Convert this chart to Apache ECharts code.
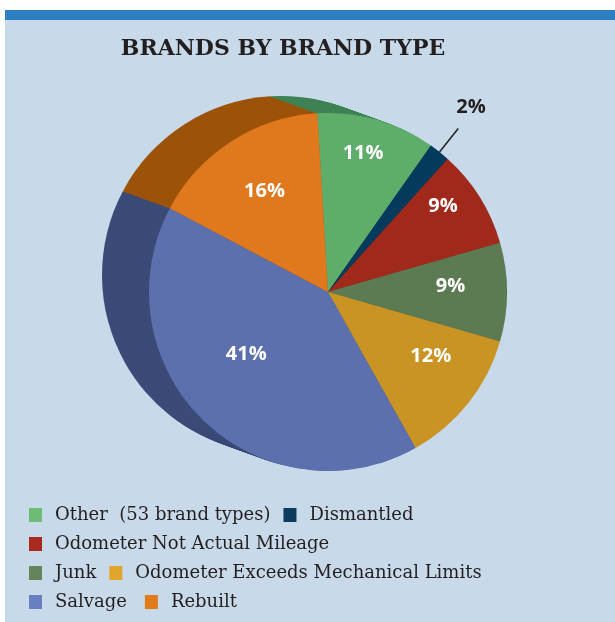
<!DOCTYPE html>
<html><head><meta charset="utf-8">
<script src="https://cdn.jsdelivr.net/npm/echarts@6/dist/echarts.min.js"></script>
<style>html,body{margin:0;padding:0;background:#fff;}#c{width:615px;height:622px;}</style>
</head><body><div id="c"></div>
<script>
// ---- data ----
const categories = ['Other  (53 brand types)', 'Dismantled', 'Odometer Not Actual Mileage', 'Junk', 'Odometer Exceeds Mechanical Limits', 'Salvage', 'Rebuilt'];
const shares = [10.7, 1.9, 8.9, 8.9, 12.4, 40.9, 16.3];
const legendRows = [
  ['Other  (53 brand types)', 'Dismantled'],
  ['Odometer Not Actual Mileage'],
  ['Junk', 'Odometer Exceeds Mechanical Limits'],
  ['Salvage', 'Rebuilt']
];
const titleText = 'BRANDS BY BRAND TYPE';

// ---- styles ----
const faceColors = ['#5fad6b', '#043a5b', '#a0291c', '#5c7b52', '#c99424', '#5c70ae', '#e0781d'];
const sideColors = ['#3f8355', '#022a44', '#7a1d14', '#45603d', '#9a7420', '#3b4a77', '#9c5308'];
const legendColors = ['#6abd73', '#0a3c5e', '#a82a1e', '#65845a', '#e0a52a', '#6a7fc2', '#e07a1a'];
const labelNudge = [[0, -15], [-5, -21], [6, -18], [-6, -6], [2, -15], [8, -30], [6, 7]];
const CX = 328, CY = 292, R = 179, START = 93.4;
const DEPTH_X = -47, DEPTH_Y = -17, STEPS = 28;

function pieData(colors) {
  return categories.map((n, i) => ({ name: n, value: shares[i], itemStyle: { color: colors[i] } }));
}

const series = [];
for (let s = 0; s < STEPS; s++) {
  const t = s / STEPS;
  series.push({
    type: 'pie', silent: true, animation: false, clockwise: true,
    startAngle: START, center: [CX + DEPTH_X * (1 - t), CY + DEPTH_Y * (1 - t)],
    radius: R, label: { show: false }, labelLine: { show: false },
    itemStyle: { borderWidth: 0 }, emphasis: { disabled: true },
    data: pieData(sideColors)
  });
}
series.push({
  type: 'pie', silent: true, animation: false, clockwise: true,
  startAngle: START, center: [CX, CY], radius: R,
  label: { show: false }, labelLine: { show: false },
  itemStyle: { borderWidth: 0 }, emphasis: { disabled: true },
  data: pieData(faceColors)
});
// label carrier
series.push({
  type: 'pie', silent: true, animation: false, clockwise: true,
  startAngle: START, center: [CX, CY], radius: [72, R],
  avoidLabelOverlap: false,
  itemStyle: { color: 'rgba(0,0,0,0)', borderWidth: 0 }, emphasis: { disabled: true },
  label: {
    show: true, position: 'inside', color: '#ffffff',
    fontFamily: 'Open Sans', fontWeight: 'bold', fontSize: 20,
    formatter: p => Math.round(p.value) + '%'
  },
  labelLine: { show: false },
  labelLayout: p => ({ dx: labelNudge[p.dataIndex][0], dy: labelNudge[p.dataIndex][1] }),
  data: categories.map((n, i) => {
    const d = { name: n, value: shares[i] };
    if (i === 1) {
      d.label = { position: 'outside', color: '#231f20', fontFamily: 'Open Sans', fontWeight: 'bold', fontSize: 20, distanceToLabelLine: 3 };
      d.labelLine = { show: true, length: 30, length2: 0, lineStyle: { color: '#231f20', width: 1.5 } };
    }
    return d;
  })
});

const legends = legendRows.map((row, k) => ({
  orient: 'horizontal', left: 24, top: 501 + k * 29,
  itemWidth: 13, itemHeight: 14, icon: 'rect', itemGap: [13, 0, 13, 18][k],
  selectedMode: false,
  textStyle: { fontFamily: 'DejaVu Serif', fontSize: 18, color: '#231f20', padding: [0, 0, 0, 8] },
  data: row.map(n => ({ name: n, itemStyle: { color: legendColors[categories.indexOf(n)] } }))
}));

const chart = echarts.init(document.getElementById('c'), null, { renderer: 'canvas' });
chart.setOption({
  backgroundColor: '#ffffff',
  animation: false,
  graphic: [
    { type: 'rect', z: -10, shape: { x: 5, y: 10, width: 610, height: 612 }, style: { fill: '#c8d9ea' } },
    { type: 'rect', z: -9, shape: { x: 5, y: 10, width: 610, height: 10 }, style: { fill: '#2e7ec3' } }
  ],
  title: {
    text: titleText, left: 278, top: 33, textAlign: 'center',
    textStyle: { fontFamily: 'DejaVu Serif', fontWeight: 'bold', fontSize: 22, color: '#231f20' }
  },
  legend: legends,
  series: series
});
</script></body></html>
